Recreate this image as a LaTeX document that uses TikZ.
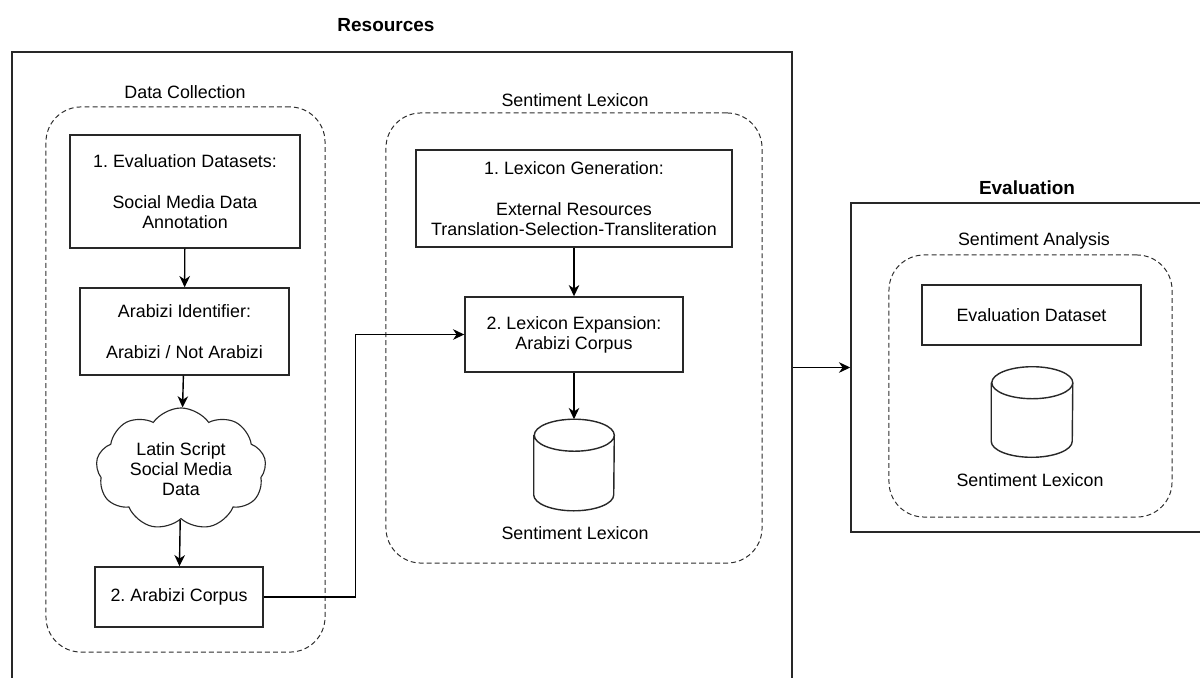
\documentclass[tikz,border=0pt]{standalone}
\usepackage{fontspec}
\setmainfont{Liberation Sans}
\frenchspacing
\definecolor{edgegray}{RGB}{40, 40, 40}
\definecolor{dashgray}{RGB}{45, 45, 45}
\usepackage{tikz}
\usetikzlibrary{shapes, shapes.geometric, shapes.symbols, arrows.meta, positioning, calc}
\newcommand{\diagfont}{\fontsize{12.7}{14.2}\selectfont}
% cylinder drawn over a named, invisible node: #1 node, #2 x radius, #3 y radius
\newcommand{\storeshape}[3]{%
  \draw[storeline] ([yshift=-#3]#1.north west) -- ([yshift=#3]#1.south west)
    arc[start angle=180, end angle=360, x radius=#2, y radius=#3]
    -- ([yshift=-#3]#1.north east)
    arc[start angle=0, end angle=180, x radius=#2, y radius=#3]
    arc[start angle=180, end angle=360, x radius=#2, y radius=#3];}
\tikzset{
  procbox/.style={draw=edgegray, line width=1pt, align=center, inner sep=0pt, font=\diagfont},
  groupbox/.style={draw=dashgray, line width=0.7pt, dash pattern=on 3.5pt off 2.2pt, rounded corners=25pt, inner sep=0pt},
  outerbox/.style={draw=edgegray, line width=1pt, inner sep=0pt},
  grouplabel/.style={font=\diagfont, inner sep=0pt},
  titlelabel/.style={font=\fontsize{13.5}{15}\selectfont\bfseries, inner sep=0pt},
  store/.style={inner sep=0pt},
  storeline/.style={draw=edgegray, line width=1pt},
  flow/.style={draw=black, line width=1pt, -{Stealth[length=8pt, width=7.5pt, inset=2.5pt]}},
}

\begin{document}
\begin{tikzpicture}[x=0.025cm, y=-0.025cm]
  \useasboundingbox (0,0) rectangle (1200,677);

  % Resources frame, runs off the page
  \node[outerbox, minimum width=19.5cm, minimum height=17.5cm] (resbox) at (402, 402) {};
  \node[titlelabel] (restitle) at (386, 25) {Resources};

  % Data collection
  \node[groupbox, minimum width=6.975cm, minimum height=13.625cm] (dcgroup) at (185.5, 379.5) {};
  \node[grouplabel] (dctitle) at (185, 92) {Data Collection};
  \node[procbox, minimum width=5.75cm, minimum height=2.825cm] (evalds) at (185, 191.5) {1. Evaluation Datasets:\\[15pt]Social Media Data\\Annotation};
  \node[procbox, minimum width=5.225cm, minimum height=2.175cm] (arabid) at (184.5, 331.5) {Arabizi Identifier:\\[15pt]Arabizi / Not Arabizi};
  \node[cloud, cloud puffs=9, cloud puff arc=110, aspect=1.5, draw=edgegray, line width=0.8pt, minimum width=4.25cm, minimum height=3.05cm, align=center, font=\diagfont, inner sep=0pt] (latin) at (181, 469) {Latin Script\\Social Media\\Data};
  \node[procbox, minimum width=4.2cm, minimum height=1.5cm] (arcorp) at (179, 597) {2. Arabizi Corpus};

  \draw[flow] (evalds) -- (arabid);
  \draw[flow] (arabid) -- (latin);
  \draw[flow] (latin) -- (arcorp);

  % Sentiment lexicon
  \node[groupbox, minimum width=9.4cm, minimum height=11.25cm] (slgroup) at (574, 338) {};
  \node[grouplabel] (sltitle) at (575, 100) {Sentiment Lexicon};
  \node[procbox, minimum width=7.9cm, minimum height=2.425cm] (lexgen) at (574, 198.5) {1. Lexicon Generation:\\[15pt]External Resources\\Translation-Selection-Transliteration};
  \node[procbox, minimum width=5.45cm, minimum height=1.875cm] (lexexp) at (574, 334.5) {2. Lexicon Expansion:\\Arabizi Corpus};
  \node[store, minimum width=2cm, minimum height=2.275cm] (lexstore) at (574, 465) {};
  \storeshape{lexstore}{1cm}{0.4cm}
  \node[grouplabel] (lexstorelabel) at (575, 533) {Sentiment Lexicon};

  \draw[flow] (lexgen) -- (lexexp);
  \draw[flow] (lexexp.south) -- (lexstore.north);
  \draw[flow] (arcorp.east) -| ([xshift=-2.725cm]lexexp.west) -- (lexexp.west);

  % Evaluation frame, runs off the page
  \node[outerbox, minimum width=10.225cm, minimum height=8.225cm] (evalbox) at (1055.5, 367.5) {};
  \node[titlelabel] (evaltitle) at (1027, 188) {Evaluation};
  \node[groupbox, minimum width=7.075cm, minimum height=6.55cm] (sagroup) at (1030.5, 386) {};
  \node[grouplabel] (satitle) at (1034, 241) {Sentiment Analysis};
  \node[procbox, minimum width=5.475cm, minimum height=1.5cm] (evalset) at (1031.5, 315) {Evaluation Dataset};
  \node[store, minimum width=2.025cm, minimum height=2.25cm] (evalstore) at (1032, 412) {};
  \storeshape{evalstore}{1.0125cm}{0.4cm}
  \node[grouplabel] (evalstorelabel) at (1030, 480) {Sentiment Lexicon};

  \draw[flow] (resbox.east |- evalbox.west) -- (evalbox.west);
\end{tikzpicture}
\end{document}
